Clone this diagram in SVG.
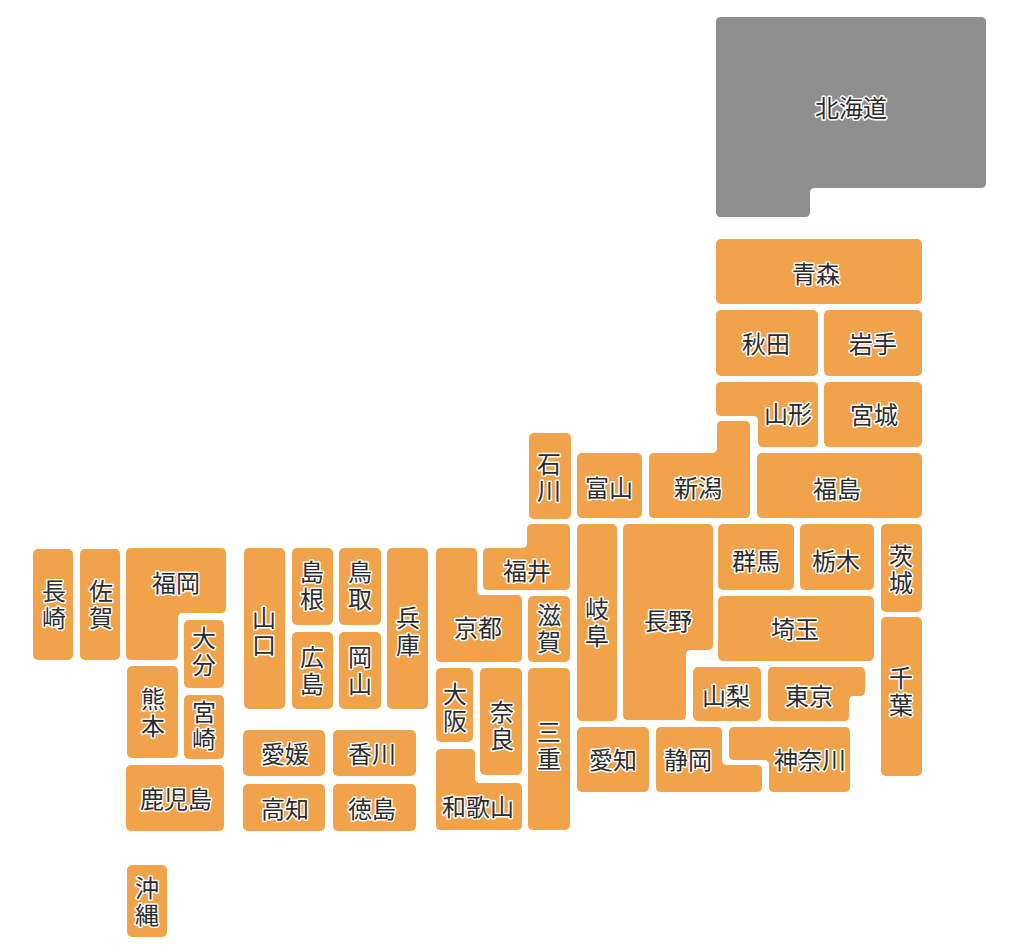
<svg xmlns="http://www.w3.org/2000/svg" width="1024" height="948" viewBox="0 0 1024 948">
<style>
.p{fill:#F1A34B;}
.hk{fill:#8F8F8F;}
.t{font-family:"Noto Sans CJK JP","Noto Sans",sans-serif;font-size:24px;fill:#2b2b2b;stroke:#ffffff;stroke-width:3px;paint-order:stroke;stroke-linejoin:round;text-anchor:middle;dominant-baseline:central;}
.v{writing-mode:vertical-rl;letter-spacing:3px;}
</style>
<rect width="1024" height="948" fill="#ffffff"/>
<g id="hokkaido"><path class="hk" d="M721,17 H981 Q986,17 986,22 V183 Q986,188 981,188 H815 Q810,188 810,193 V212 Q810,217 805,217 H721 Q716,217 716,212 V22 Q716,17 721,17 Z"/><text class="t" x="851" y="106">北海道</text></g>
<g id="aomori"><rect class="p" x="716" y="239" width="206" height="65" rx="5"/><text class="t" x="816" y="272">青森</text></g>
<g id="akita"><rect class="p" x="716" y="310" width="102" height="66" rx="5"/><text class="t" x="766" y="342">秋田</text></g>
<g id="iwate"><rect class="p" x="824" y="310" width="98" height="66" rx="5"/><text class="t" x="873" y="342">岩手</text></g>
<g id="yamagata"><path class="p" d="M721,382 H813 Q818,382 818,387 V442 Q818,447 813,447 H763 Q758,447 758,442 V421 Q758,416 753,416 H721 Q716,416 716,411 V387 Q716,382 721,382 Z"/><text class="t" x="788" y="412">山形</text></g>
<g id="miyagi"><rect class="p" x="824" y="382" width="98" height="65" rx="5"/><text class="t" x="874" y="413">宮城</text></g>
<g id="niigata"><path class="p" d="M722,421 H745 Q750,421 750,426 V513 Q750,518 745,518 H654 Q649,518 649,513 V458 Q649,453 654,453 H712 Q717,453 717,448 V426 Q717,421 722,421 Z"/><text class="t" x="698" y="486">新潟</text></g>
<g id="fukushima"><rect class="p" x="757" y="453" width="165" height="65" rx="5"/><text class="t" x="837" y="487">福島</text></g>
<g id="ishikawa"><rect class="p" x="529" y="433" width="42" height="86" rx="5"/><text class="t v" x="549" y="479">石川</text></g>
<g id="toyama"><rect class="p" x="577" y="453" width="65" height="65" rx="5"/><text class="t" x="609" y="486">富山</text></g>
<g id="fukui"><path class="p" d="M532,524 H565 Q570,524 570,529 V585 Q570,590 565,590 H488 Q483,590 483,585 V553 Q483,548 488,548 H522 Q527,548 527,543 V529 Q527,524 532,524 Z"/><text class="t" x="527" y="569">福井</text></g>
<g id="gifu"><rect class="p" x="577" y="524" width="40" height="197" rx="5"/><text class="t v" x="597" y="624">岐阜</text></g>
<g id="nagano"><path class="p" d="M628,524 H708 Q713,524 713,529 V645 Q713,650 708,650 H691 Q686,650 686,655 V715 Q686,720 681,720 H628 Q623,720 623,715 V529 Q623,524 628,524 Z"/><text class="t" x="668" y="619">長野</text></g>
<g id="gunma"><rect class="p" x="718" y="524" width="76" height="66" rx="5"/><text class="t" x="756" y="559">群馬</text></g>
<g id="tochigi"><rect class="p" x="800" y="524" width="74" height="66" rx="5"/><text class="t" x="836" y="559">栃木</text></g>
<g id="ibaraki"><rect class="p" x="881" y="524" width="41" height="88" rx="5"/><text class="t v" x="901" y="571">茨城</text></g>
<g id="saitama"><rect class="p" x="718" y="596" width="156" height="65" rx="5"/><text class="t" x="795" y="627">埼玉</text></g>
<g id="chiba"><rect class="p" x="881" y="617" width="41" height="159" rx="5"/><text class="t v" x="901" y="693">千葉</text></g>
<g id="yamanashi"><rect class="p" x="693" y="667" width="68" height="54" rx="5"/><text class="t" x="726" y="694">山梨</text></g>
<g id="tokyo"><path class="p" d="M773,667 H860 Q865,667 865,672 V691 Q865,696 860,696 H854 Q849,696 849,701 V716 Q849,721 844,721 H773 Q768,721 768,716 V672 Q768,667 773,667 Z"/><text class="t" x="809" y="694">東京</text></g>
<g id="aichi"><rect class="p" x="577" y="727" width="72" height="65" rx="5"/><text class="t" x="613" y="758">愛知</text></g>
<g id="shizuoka"><path class="p" d="M661,727 H717 Q722,727 722,732 V760 Q722,765 727,765 H757 Q762,765 762,770 V787 Q762,792 757,792 H661 Q656,792 656,787 V732 Q656,727 661,727 Z"/><text class="t" x="688" y="758">静岡</text></g>
<g id="kanagawa"><path class="p" d="M734,727 H845 Q850,727 850,732 V787 Q850,792 845,792 H774 Q769,792 769,787 V765 Q769,760 764,760 H734 Q729,760 729,755 V732 Q729,727 734,727 Z"/><text class="t" x="810" y="758">神奈川</text></g>
<g id="shiga"><rect class="p" x="528" y="596" width="42" height="66" rx="5"/><text class="t v" x="549" y="630">滋賀</text></g>
<g id="mie"><rect class="p" x="528" y="668" width="42" height="162" rx="5"/><text class="t v" x="549" y="747">三重</text></g>
<g id="kyoto"><path class="p" d="M441,548 H472 Q477,548 477,553 V590 Q477,595 482,595 H517 Q522,595 522,600 V657 Q522,662 517,662 H441 Q436,662 436,657 V553 Q436,548 441,548 Z"/><text class="t" x="478" y="626">京都</text></g>
<g id="osaka"><rect class="p" x="436" y="668" width="37" height="74" rx="5"/><text class="t v" x="455" y="709">大阪</text></g>
<g id="nara"><rect class="p" x="480" y="668" width="42" height="107" rx="5"/><text class="t v" x="502" y="727">奈良</text></g>
<g id="wakayama"><path class="p" d="M441,749 H470 Q475,749 475,754 V778 Q475,783 480,783 H517 Q522,783 522,788 V825 Q522,830 517,830 H441 Q436,830 436,825 V754 Q436,749 441,749 Z"/><text class="t" x="478" y="805">和歌山</text></g>
<g id="hyogo"><rect class="p" x="387" y="548" width="41" height="161" rx="5"/><text class="t v" x="408" y="633">兵庫</text></g>
<g id="tottori"><rect class="p" x="339" y="548" width="42" height="77" rx="5"/><text class="t v" x="360" y="587">鳥取</text></g>
<g id="shimane"><rect class="p" x="292" y="548" width="41" height="77" rx="5"/><text class="t v" x="312" y="587">島根</text></g>
<g id="okayama"><rect class="p" x="339" y="632" width="42" height="77" rx="5"/><text class="t v" x="360" y="672">岡山</text></g>
<g id="hiroshima"><rect class="p" x="292" y="632" width="41" height="77" rx="5"/><text class="t v" x="312" y="672">広島</text></g>
<g id="yamaguchi"><rect class="p" x="244" y="548" width="41" height="161" rx="5"/><text class="t v" x="264" y="633">山口</text></g>
<g id="ehime"><rect class="p" x="243" y="730" width="82" height="46" rx="5"/><text class="t" x="285" y="752">愛媛</text></g>
<g id="kagawa"><rect class="p" x="333" y="730" width="83" height="46" rx="5"/><text class="t" x="372" y="752">香川</text></g>
<g id="kochi"><rect class="p" x="243" y="784" width="82" height="47" rx="5"/><text class="t" x="285" y="807">高知</text></g>
<g id="tokushima"><rect class="p" x="333" y="784" width="83" height="47" rx="5"/><text class="t" x="372" y="807">徳島</text></g>
<g id="nagasaki"><rect class="p" x="33" y="549" width="40" height="111" rx="5"/><text class="t v" x="54" y="606">長崎</text></g>
<g id="saga"><rect class="p" x="80" y="549" width="40" height="111" rx="5"/><text class="t v" x="101" y="606">佐賀</text></g>
<g id="fukuoka"><path class="p" d="M131,548 H221 Q226,548 226,553 V608 Q226,613 221,613 H183 Q178,613 178,618 V655 Q178,660 173,660 H131 Q126,660 126,655 V553 Q126,548 131,548 Z"/><text class="t" x="176" y="581">福岡</text></g>
<g id="oita"><rect class="p" x="184" y="620" width="40" height="68" rx="5"/><text class="t v" x="204" y="653">大分</text></g>
<g id="kumamoto"><rect class="p" x="127" y="666" width="51" height="92" rx="5"/><text class="t v" x="153" y="714">熊本</text></g>
<g id="miyazaki"><rect class="p" x="184" y="695" width="40" height="64" rx="5"/><text class="t v" x="204" y="727">宮崎</text></g>
<g id="kagoshima"><rect class="p" x="126" y="765" width="98" height="66" rx="5"/><text class="t" x="176" y="797">鹿児島</text></g>
<g id="okinawa"><rect class="p" x="127" y="865" width="40" height="72" rx="5"/><text class="t v" x="147" y="903">沖縄</text></g>
</svg>
